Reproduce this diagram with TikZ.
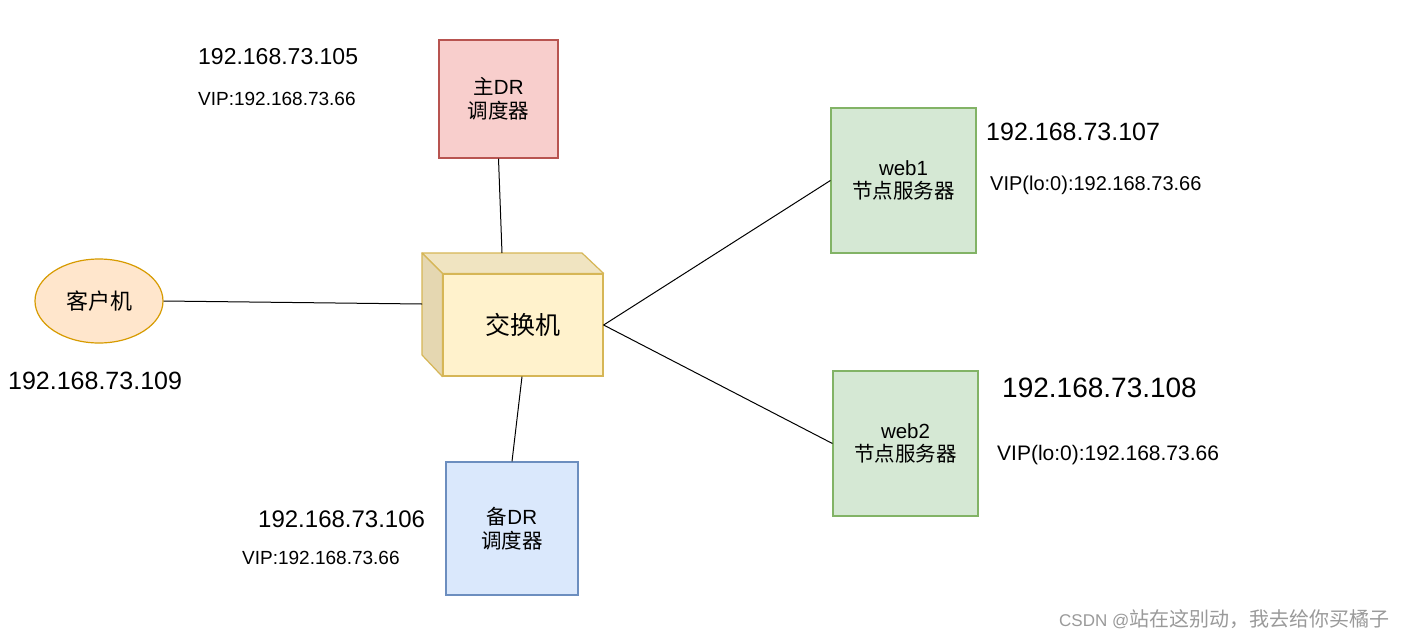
\documentclass[tikz,border=0pt]{standalone}
\usepackage{fontspec}
\setmainfont{Liberation Sans}
\newfontfamily\cjk{Noto Sans CJK SC}
\usetikzlibrary{shapes.geometric}
\definecolor{redfill}{HTML}{F8CECC}
\definecolor{redline}{HTML}{B85450}
\definecolor{bluefill}{HTML}{DAE8FC}
\definecolor{blueline}{HTML}{6C8EBF}
\definecolor{greenfill}{HTML}{D5E8D4}
\definecolor{greenline}{HTML}{82B366}
\definecolor{orangefill}{HTML}{FFE6CC}
\definecolor{orangeline}{HTML}{D79B00}
\definecolor{yellowfill}{HTML}{FFF2CC}
\definecolor{yellowline}{HTML}{D6B656}
\definecolor{yellowtop}{HTML}{F0E4C1}
\definecolor{yellowside}{HTML}{E5D7B1}
\definecolor{wmgray}{HTML}{9A9A9A}
\newcommand{\fs}[1]{\fontsize{#1}{#1}\selectfont}
\begin{document}
\begin{tikzpicture}[x=1pt,y=-1pt,
  box/.style={draw, line width=1.2pt, align=center, inner sep=0pt, font=\fs{20.5}\linespread{1.2}\selectfont},
  conn/.style={draw=black, line width=1pt},
  lbl/.style={anchor=base west, inner sep=0pt, text=black}]
\useasboundingbox (0,0) rectangle (1404,637);
\fill[white] (0,0) rectangle (1404,637);

% nodes
\node[box, fill=redfill, draw=redline, minimum width=119pt, minimum height=118pt] (mdr) at (498.5,99) {{\cjk 主}DR\\[-1pt]{\cjk 调度器}};
\node[box, fill=bluefill, draw=blueline, minimum width=132pt, minimum height=133pt] (bdr) at (512,528.5) {{\cjk 备}DR\\[-1pt]{\cjk 调度器}};
\node[box, fill=greenfill, draw=greenline, minimum width=145pt, minimum height=145pt] (web1) at (903.5,180.5) {web1\\[-1pt]{\cjk 节点服务器}};
\node[box, fill=greenfill, draw=greenline, minimum width=145pt, minimum height=145pt] (web2) at (905.5,443.5) {web2\\[-1pt]{\cjk 节点服务器}};
\node[box, ellipse, fill=orangefill, draw=orangeline, minimum width=128pt, minimum height=84pt, font=\cjk\fs{22}] (client) at (99,301) {客户机};

% switch cube
\node[box, fill=yellowfill, draw=yellowline, minimum width=160pt, minimum height=102pt, font=\cjk\fs{25}] (sw) at (523,325) {交换机};
\coordinate (btl) at (422,253);
\coordinate (btr) at (582,253);
\coordinate (bbl) at (422,355);
\fill[yellowtop, draw=yellowline, line width=1.2pt, line join=round] (btl) -- (btr) -- (sw.north east) -- (sw.north west) -- cycle;
\fill[yellowside, draw=yellowline, line width=1.2pt, line join=round] (btl) -- (sw.north west) -- (sw.south west) -- (bbl) -- cycle;
\coordinate (swtop) at (502,253);
\coordinate (swleft) at (422,304);

% connectors
\draw[conn] (mdr.south) -- (swtop);
\draw[conn] (client.east) -- (swleft);
\draw[conn] (sw.east) -- (web1.west);
\draw[conn] (sw.east) -- (web2.west);
\draw[conn] ([xshift=-1pt]sw.south) -- (bdr.north);

% labels
\node[lbl, font=\fs{23}] (ip105) at (198,64) {192.168.73.105};
\node[lbl, font=\fs{19}] (vip105) at (198,105) {VIP:192.168.73.66};
\node[lbl, font=\fs{25}] (ip107) at (986,140) {192.168.73.107};
\node[lbl, font=\fs{20}] (vip107) at (990,190) {VIP(lo:0):192.168.73.66};
\node[lbl, font=\fs{28}] (ip108) at (1002,397) {192.168.73.108};
\node[lbl, font=\fs{21}] (vip108) at (997,460.5) {VIP(lo:0):192.168.73.66};
\node[lbl, font=\fs{25}] (ip109) at (8,389) {192.168.73.109};
\node[lbl, font=\fs{24}] (ip106) at (258,527) {192.168.73.106};
\node[lbl, font=\fs{19}] (vip106) at (242,564) {VIP:192.168.73.66};

% watermark
\node[lbl, font=\fs{17}, text=wmgray] (wm) at (1059,626) {CSDN @{\cjk\fs{20}站在这别动，我去给你买橘子}};
\end{tikzpicture}
\end{document}
